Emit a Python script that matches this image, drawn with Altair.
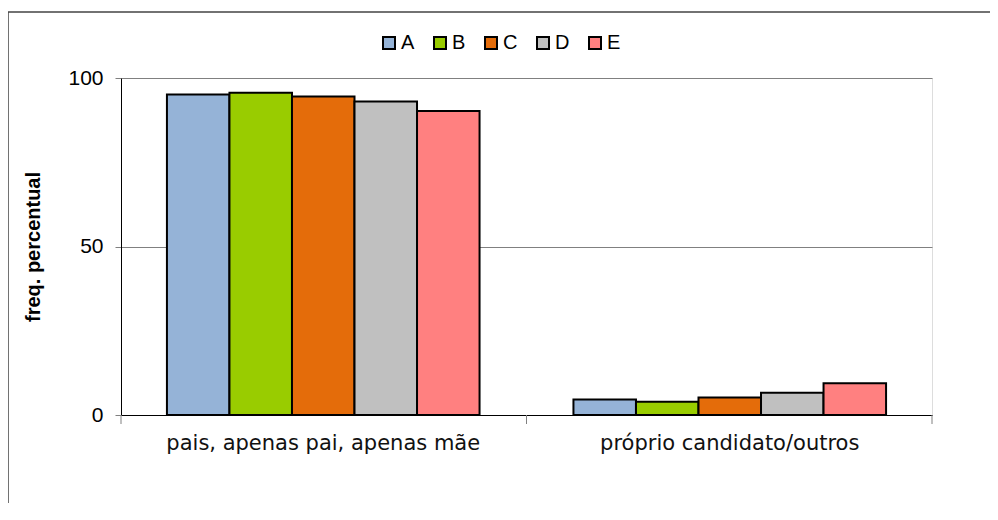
import altair as alt
import pandas as pd

categories = ["pais, apenas pai, apenas mãe", "próprio candidato/outros"]
series = ["A", "B", "C", "D", "E"]
values_pais = [95.1, 95.6, 94.5, 93.0, 90.2]
values_proprio = [4.6, 3.9, 5.2, 6.6, 9.4]
colors = ["#95B3D7", "#99CC00", "#E46C0A", "#C0C0C0", "#FF8080"]
y_ticks = [0, 50, 100]
x_tick_pos = [0, 1, 2]

rows = []
for s, v in zip(series, values_pais):
    rows.append({"cat": categories[0], "serie": s, "val": v})
for s, v in zip(series, values_proprio):
    rows.append({"cat": categories[1], "serie": s, "val": v})
df = pd.DataFrame(rows)

W, H = 811, 337

bars = alt.Chart(df).mark_bar(stroke="black", strokeWidth=2).encode(
    x=alt.X("cat:N", sort=categories, title=None,
            scale=alt.Scale(paddingInner=0.231, paddingOuter=0.113),
            axis=alt.Axis(labelAngle=0, ticks=False, domain=True, domainColor="#000000",
                          domainWidth=1, labelFont="DejaVu Sans", labelFontSize=21,
                          labelLimit=600, labelColor="#111111", labelPadding=17, grid=False)),
    xOffset=alt.XOffset("serie:N", sort=series),
    y=alt.Y("val:Q", title="freq. percentual",
            scale=alt.Scale(domain=[0, 100], nice=False),
            axis=alt.Axis(values=y_ticks, grid=True, gridColor="#808080", gridWidth=1,
                          domainColor="#000000", tickColor="#808080", tickSize=6,
                          labelFont="Liberation Sans", labelFontSize=21, labelColor="#000000",
                          labelPadding=12, titleFont="Liberation Sans", titleFontSize=20,
                          titleFontWeight="bold", titleColor="#000000",
                          titleX=-78, titleY=H / 2, titleAngle=-90, titleBaseline="bottom")),
    color=alt.Color("serie:N", sort=series,
                    scale=alt.Scale(domain=series, range=colors),
                    legend=alt.Legend(title=None, orient="none", direction="horizontal",
                                      legendX=258, legendY=-45, symbolType="square",
                                      symbolSize=144, symbolStrokeColor="black",
                                      symbolStrokeWidth=2, labelFont="Liberation Sans",
                                      labelFontSize=20, labelColor="#000000",
                                      labelOffset=2, columnPadding=15, padding=0)),
)

ticks = alt.Chart(pd.DataFrame({"pos": x_tick_pos})).mark_rule(color="#808080", strokeWidth=1).encode(
    x=alt.X("pos:Q", scale=alt.Scale(domain=[0, 2], nice=False), axis=None),
    y=alt.value(H),
    y2=alt.value(H + 9),
)

frame = alt.Chart(pd.DataFrame({"a": [0]})).mark_rect(
    fill="transparent", stroke="#444444", strokeWidth=1.5
).encode(
    x=alt.value(-113), x2=alt.value(W + 200),
    y=alt.value(-66), y2=alt.value(H + 300),
)

chart = alt.layer(frame, bars, ticks).resolve_scale(x="independent").properties(
    width=W, height=H,
    autosize=alt.AutoSizeParams(type="none"),
    padding={"left": 113, "top": 70, "right": 58, "bottom": 88},
).configure_view(stroke="#808080", strokeWidth=1).configure(background="white")

chart.save("out.html", embed_options={"renderer": "svg", "actions": False})
